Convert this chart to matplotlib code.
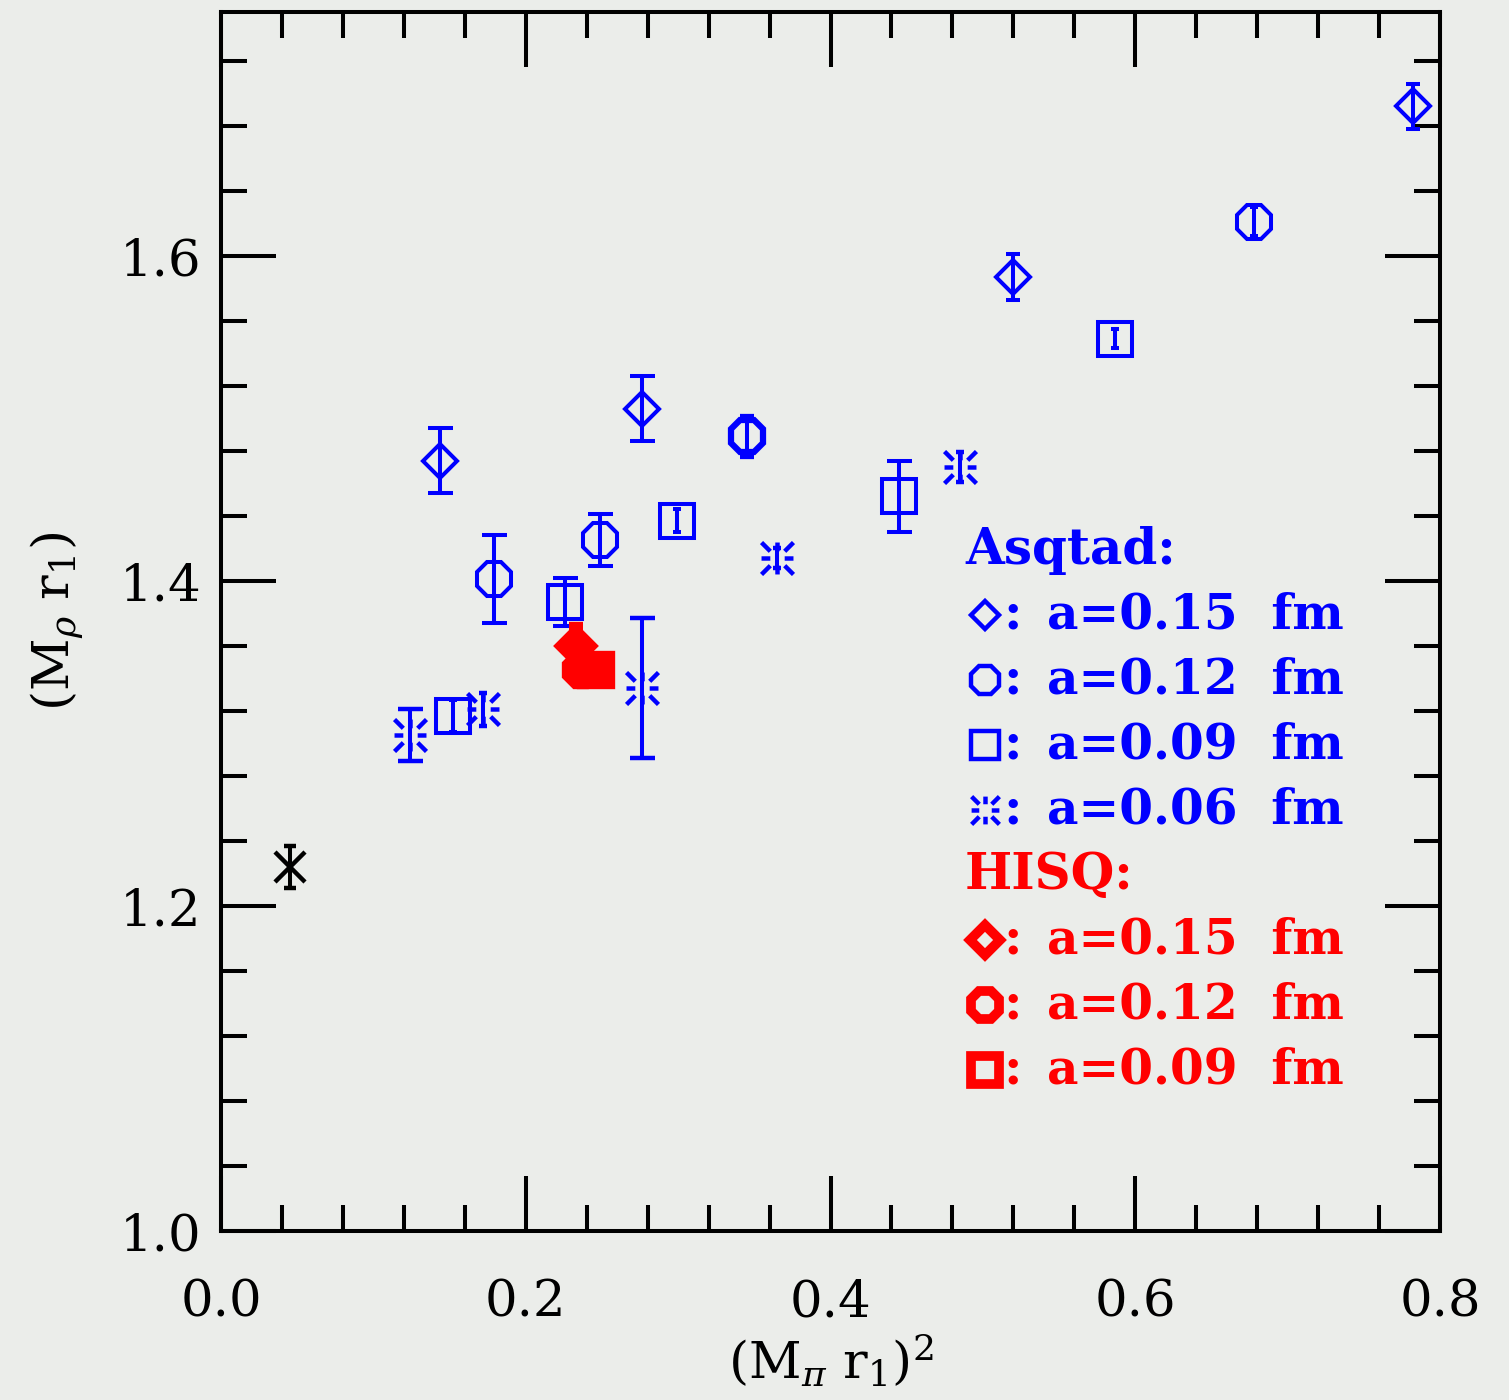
import numpy as np
import matplotlib
matplotlib.use("Agg")
import matplotlib.pyplot as plt
from matplotlib.path import Path
from matplotlib.ticker import MultipleLocator

plt.rcParams['font.family'] = ['DejaVu Serif']
plt.rcParams['mathtext.fontset'] = 'dejavuserif'

BLUE = "#0000ff"
RED = "#ff0000"
BG = "#ebedea"

# Asqtad ensembles
asq15_x = [0.144, 0.276, 0.520, 0.782]
asq15_y = [1.474, 1.506, 1.587, 1.692]
asq15_e = [0.020, 0.020, 0.014, 0.014]

asq12_x = [0.179, 0.249, 0.345, 0.678]
asq12_y = [1.401, 1.425, 1.489, 1.621]
asq12_e = [0.027, 0.016, 0.012, 0.009]

asq09_x = [0.152, 0.226, 0.299, 0.445, 0.587]
asq09_y = [1.317, 1.387, 1.437, 1.452, 1.549]
asq09_e = [0.010, 0.015, 0.007, 0.022, 0.006]

asq06_x = [0.124, 0.172, 0.276, 0.365, 0.485]
asq06_y = [1.305, 1.321, 1.334, 1.414, 1.470]
asq06_e = [0.016, 0.010, 0.043, 0.006, 0.009]

# HISQ ensembles
hisq15_x, hisq15_y, hisq15_e = [0.233], [1.360], [0.012]
hisq12_x, hisq12_y, hisq12_e = [0.236], [1.345], [0.006]
hisq09_x, hisq09_y, hisq09_e = [0.246], [1.345], [0.006]

# physical point
phys_x, phys_y, phys_e = [0.045], [1.224], [0.013]

legend_labels = ["a=0.15  fm", "a=0.12  fm", "a=0.09  fm", "a=0.06  fm"]

# burst marker: 8 dashes, diagonals reach the corners of a square
verts = []
codes = []
for dx, dy in [(1, 0), (1, 1), (0, 1), (-1, 1), (-1, 0), (-1, -1), (0, -1), (1, -1)]:
    verts += [(0.45 * dx, 0.45 * dy), (dx, dy)]
    codes += [Path.MOVETO, Path.LINETO]
BURST = Path(verts, codes)


def capsize_for(e):
    if e >= 0.015:
        return 9
    if e >= 0.012:
        return 5
    return 3


def draw(xs, ys, es, marker, ms, color, face, mew, z):
    for x, y, e in zip(xs, ys, es):
        ax.errorbar(x, y, yerr=e, fmt='', marker=marker, ls='none', ms=ms,
                    mec=color, mfc=face, mew=mew, color=color, ecolor=color,
                    elinewidth=2.9, capsize=capsize_for(e), capthick=2.9,
                    zorder=z)


fig = plt.figure(figsize=(15.09, 14.0), dpi=100, facecolor=BG)
ax = fig.add_axes([221 / 1509, 169 / 1400, 1219 / 1509, 1219 / 1400])
ax.set_facecolor(BG)

draw(asq15_x, asq15_y, asq15_e, 'D', 17, BLUE, 'none', 2.9, 3)
draw(asq12_x[:2], asq12_y[:2], asq12_e[:2], '8', 26, BLUE, 'none', 2.9, 3)
draw(asq12_x[2:3], asq12_y[2:3], asq12_e[2:3], '8', 25, BLUE, 'none', 4.5, 3)
draw(asq12_x[3:], asq12_y[3:], asq12_e[3:], '8', 26, BLUE, 'none', 2.9, 3)
draw(asq09_x, asq09_y, asq09_e, 's', 24, BLUE, 'none', 2.9, 3)
draw(asq06_x, asq06_y, asq06_e, BURST, 23, BLUE, 'none', 3.2, 3)

draw(hisq15_x, hisq15_y, hisq15_e, 'D', 17, RED, RED, 6, 5)
draw(hisq12_x, hisq12_y, hisq12_e, '8', 24, RED, RED, 6, 5)
draw(hisq09_x, hisq09_y, hisq09_e, 's', 22, RED, RED, 6, 5)

ax.errorbar(phys_x, phys_y, yerr=phys_e, fmt='', marker='x', ls='none', ms=22,
            mew=3.2, color='black', elinewidth=2.9, capsize=4, capthick=2.9,
            zorder=4)

ax.set_xlim(0.0, 0.8)
ax.set_ylim(1.0, 1.75)
ax.xaxis.set_major_locator(MultipleLocator(0.2))
ax.xaxis.set_minor_locator(MultipleLocator(0.04))
ax.yaxis.set_major_locator(MultipleLocator(0.2))
ax.yaxis.set_minor_locator(MultipleLocator(0.04))
ax.tick_params(which='both', direction='in', top=True, right=True, width=2.9,
               labelsize=37)
ax.tick_params(which='major', length=39.6)
ax.tick_params(which='minor', length=18.7)
ax.tick_params(axis='x', pad=34)
ax.tick_params(axis='y', pad=14)
ax.xaxis.set_major_formatter(plt.FuncFormatter(lambda v, p: f"{v:.1f}"))
ax.yaxis.set_major_formatter(plt.FuncFormatter(lambda v, p: f"{v:.1f}"))
for sp in ax.spines.values():
    sp.set_linewidth(2.9)

ax.set_xlabel(r"(M$_{\pi}$ r$_1$)$^2$", fontsize=37, labelpad=4)
ax.set_ylabel(r"(M$_{\rho}$ r$_1$)", fontsize=37, labelpad=24)


# hand-made key in axes fraction
def fx(px):
    return (px - 221) / 1219


def fy(py):
    return (1231 - py) / 1219


ax.text(fx(965), fy(550), "Asqtad:", color=BLUE, fontsize=36,
        fontweight='bold', transform=ax.transAxes, va='center', ha='left')
ax.text(fx(965), fy(875), "HISQ:", color=RED, fontsize=36,
        fontweight='bold', transform=ax.transAxes, va='center', ha='left')

asq_keys = [('D', 14.3), ('8', 21.5), ('s', 20), (BURST, 20)]
for i, ((m, ms), lab) in enumerate(zip(asq_keys, legend_labels)):
    yy = fy(615 + 65 * i)
    ax.plot([fx(985)], [yy], marker=m, ms=ms, mec=BLUE, mfc='none', mew=3.2,
            transform=ax.transAxes, clip_on=False, ls='none')
    ax.text(fx(1003), yy, ":", color=BLUE, fontsize=36, fontweight='bold',
            transform=ax.transAxes, va='center', ha='left')
    ax.text(fx(1047), yy, lab, color=BLUE, fontsize=35, fontweight='bold',
            transform=ax.transAxes, va='center', ha='left')

hisq_keys = [('D', 15), ('8', 22), ('s', 20)]
for i, ((m, ms), lab) in enumerate(zip(hisq_keys, legend_labels[:3])):
    yy = fy(940 + 65 * i)
    ax.plot([fx(985)], [yy], marker=m, ms=ms, mec=RED, mfc=BG, mew=7,
            transform=ax.transAxes, clip_on=False, ls='none')
    ax.text(fx(1003), yy, ":", color=RED, fontsize=36, fontweight='bold',
            transform=ax.transAxes, va='center', ha='left')
    ax.text(fx(1047), yy, lab, color=RED, fontsize=35, fontweight='bold',
            transform=ax.transAxes, va='center', ha='left')

fig.savefig("out.png", dpi=100, facecolor=BG)
